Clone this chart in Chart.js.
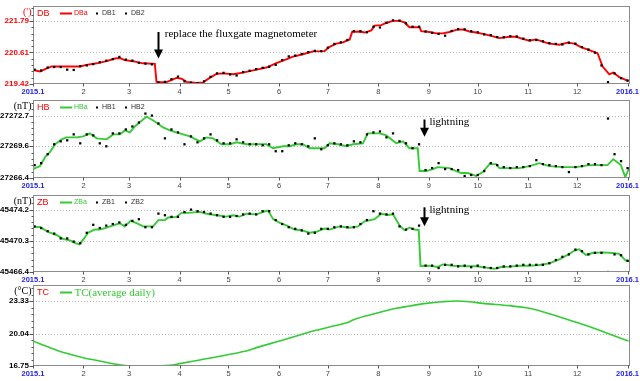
<!DOCTYPE html>
<html><head><meta charset="utf-8">
<script src="https://cdn.jsdelivr.net/npm/chart.js@4/dist/chart.umd.min.js"></script>
<style>
html,body{margin:0;padding:0;background:#fff;width:640px;height:381px;overflow:hidden;position:relative}
canvas{position:absolute;left:0}
</style></head><body>
<canvas id="c0"></canvas><canvas id="c1"></canvas><canvas id="c2"></canvas><canvas id="c3"></canvas>
<script>
// ---------- data ----------
const monthTickDays = [0,31,59,90,120,151,181,212,243,273,304,334,365];
const monthLabels = ['2015.1','2','3','4','5','6','7','8','9','10','11','12','2016.1'];

const DB_ticks = [219.42,220.61,221.79];
const DB_tickLabels = ['219.42','220.61','221.79'];
const HB_ticks = [27266.4,27269.6,27272.7];
const HB_tickLabels = ['27266.4','27269.6','27272.7'];
const ZB_ticks = [45466.4,45470.3,45474.2];
const ZB_tickLabels = ['45466.4','45470.3','45474.2'];
const TC_ticks = [16.75,20.04,23.33];
const TC_tickLabels = ['16.75','20.04','23.33'];

const DBa_days = [0,4.3,7.4,11.5,15.3,20.7,28.8,32.9,39.1,45.2,50.3,53.3,56.4,61.3,67.4,74.8,75.8,77.9,82,88.1,91.2,94.2,100.4,104.4,108.5,112.6,116.7,122.8,128.9,137.2,143.3,149.4,155.5,159.6,165.7,171.9,179,182.1,186.2,190.2,194.4,196,200.5,203.6,207.7,209.7,213.8,216.9,220.9,225,228.1,231.1,237.3,238.3,243.4,247.5,251.6,255.7,259.8,263.8,267.9,272,276.1,280.2,286.3,292.5,296.6,300.6,304.7,308.8,312.9,317,323.1,328.2,332.3,336.4,341.5,346.6,349.7,353.8,356.2,359.9,365.6];
const DBa_vals = [219.95,219.89,219.98,220.08,220.08,220.08,220.08,220.14,220.20,220.28,220.38,220.40,220.32,220.28,220.20,220.18,219.50,219.49,219.49,219.65,219.62,219.50,219.46,219.48,219.65,219.80,219.82,219.79,219.85,219.96,220.04,220.21,220.35,220.45,220.54,220.65,220.66,220.82,220.94,220.99,221.10,221.39,221.40,221.36,221.44,221.62,221.64,221.72,221.80,221.80,221.74,221.56,221.56,221.41,221.38,221.33,221.33,221.38,221.46,221.48,221.40,221.36,221.31,221.25,221.15,221.20,221.20,221.12,221.05,221.10,221.02,220.94,220.90,220.98,220.94,220.81,220.70,220.58,220.08,219.78,219.85,219.68,219.53];

const HBa_days = [0,4.3,7.4,10.4,13.5,17.6,20.6,26.8,30.8,34.9,39.1,45.2,49.2,53.3,56.4,59.5,62.5,69.7,74.8,79.9,84,90.1,96.3,102.4,106.5,110.6,115.7,120.8,124.9,131,143.3,147.3,153.5,157.6,161.7,165.7,169.8,175,179,182,187.2,192.3,196.4,202.5,205.6,212.8,216.9,223,227.1,231.1,236.2,237.3,241.4,245.5,248.5,255.7,259.8,262.8,266.9,272,276.1,280.2,284.3,286.3,292.5,298.6,304.7,310.9,317,325.2,333.4,341.5,352.7,356.2,360.9,363.6,366];
const HBa_vals = [27267.3,27267.6,27268.5,27269.0,27269.8,27270.3,27270.5,27270.5,27270.6,27270.9,27270.4,27270.3,27270.8,27270.8,27271.2,27271.0,27271.6,27272.6,27272.1,27271.5,27271.2,27270.9,27270.6,27270.1,27270.5,27270.4,27269.8,27269.8,27270.0,27269.8,27269.8,27269.4,27269.6,27269.6,27269.8,27269.8,27269.4,27269.4,27269.4,27269.9,27269.8,27269.6,27269.8,27269.9,27270.9,27270.9,27270.7,27269.9,27270.1,27269.4,27269.4,27267.1,27267.1,27267.3,27267.5,27267.4,27267.1,27266.9,27266.9,27266.6,27267.0,27267.8,27267.8,27267.4,27267.4,27267.4,27267.6,27267.9,27267.6,27267.5,27267.5,27267.7,27267.7,27268.3,27267.7,27266.5,27267.4];

const ZBa_days = [0,4.3,7.4,10.4,14.5,18.6,22.7,25.7,28.4,30.8,33.8,37.9,41,45.2,49.2,53.3,56.4,59.9,63.6,67.6,73.8,76.9,81,83,88.1,91.2,95.3,102.4,106.5,112.6,118.8,122.8,126.9,131,137.2,141.3,144.3,147.4,151.5,155.5,160.6,164.7,169.8,173.9,179,182,188.2,194.4,199.5,203.6,209.7,213.8,217.9,221,225,228.1,231.1,234.2,236.8,237.9,243.4,248.5,251.6,257.7,265.9,272,278.1,283.3,287.4,292.5,298.6,304.7,310.9,317,323.1,328.2,332.3,335.3,339.4,343.5,349.7,355.8,359.9,363.6,366];
const ZBa_vals = [45472.02,45472.02,45471.63,45471.31,45471.03,45470.52,45470.36,45470.04,45469.85,45470.44,45471.31,45471.71,45471.71,45471.94,45472.22,45472.50,45472.10,45472.81,45472.50,45472.10,45472.10,45472.89,45472.89,45473.21,45473.29,45473.80,45473.80,45473.92,45473.69,45473.49,45473.33,45473.49,45473.33,45473.69,45473.61,45473.92,45474.08,45473.01,45472.54,45472.22,45471.71,45471.63,45471.31,45471.43,45471.83,45471.71,45472.10,45471.94,45472.10,45472.74,45473.01,45473.69,45473.53,45473.61,45472.22,45471.63,45471.94,45471.71,45471.63,45467.15,45467.19,45467.03,45467.35,45467.19,45467.11,45467.11,45466.95,45466.80,45467.03,45467.07,45467.19,45467.19,45467.27,45467.47,45467.98,45468.54,45469.05,45469.25,45468.54,45468.78,45468.86,45468.78,45468.66,45467.87,45467.75];

const TC_days = [0,10.4,20.6,30.8,41,51.1,58.3,71.5,83.8,90,102.4,118.8,133,137.2,151.5,163.8,169.8,176,182,194.4,196.4,210.7,223,231.1,241.4,251.6,259.8,268,276.1,292.5,304.7,312.9,321.1,333.4,343.5,353.8,365.6];
const TC_vals = [19.28,18.61,18.03,17.59,17.26,16.92,16.78,16.75,16.82,16.99,17.36,17.86,18.37,18.61,19.28,19.89,20.2,20.45,20.7,21.24,21.41,22.08,22.59,22.82,23.09,23.26,23.33,23.26,23.09,22.86,22.59,22.25,21.84,21.17,20.63,19.99,19.28];

const dotDays1 = [1,9,17,25,33,41,49,57,65,73,81,89,97,105,113,121,129,137,145,153,161,169,177,185,193,201,209,217,225,233,241,249,257,265,273,281,289,297,305,313,321,329,337,345,353,361];
const dotDays2 = [5,13,21,29,37,45,53,61,69,77,85,93,101,109,117,125,133,141,149,157,165,173,181,189,197,205,213,221,229,237,245,253,261,269,277,285,293,301,309,317,325,333,341,349,357,365];

const DB1 = [219.96,220.04,220.06,219.95,220.12,220.24,220.36,220.34,220.22,220.16,219.50,219.70,219.47,219.52,219.82,219.78,219.87,219.98,220.07,220.32,220.49,220.62,220.66,220.93,221.08,221.41,221.58,221.73,221.81,221.58,221.40,221.31,221.42,221.48,221.37,221.26,221.18,221.21,221.07,221.03,220.93,220.98,220.81,220.60,219.49,219.64];
const DB2 = [219.93,220.06,219.96,220.09,220.17,220.30,220.44,220.30,220.19,219.48,219.60,219.52,219.45,219.69,219.84,219.74,219.92,220.03,220.14,220.46,220.55,220.67,220.79,220.99,221.41,221.37,221.55,221.82,221.71,221.58,221.35,221.24,221.49,221.41,221.29,221.19,221.22,221.13,221.08,220.96,220.91,220.94,220.72,220.12,219.82,219.55];
const HB1 = [27267.7,27268.8,27270.1,27270.8,27270.8,27269.9,27270.9,27271.3,27272.0,27272.7,27270.4,27271.0,27270.6,27270.4,27270.2,27269.9,27270.0,27269.8,27269.8,27269.1,27269.9,27269.6,27269.3,27269.9,27269.7,27270.0,27271.0,27270.5,27270.1,27269.4,27267.2,27267.9,27267.3,27266.6,27266.7,27267.9,27267.5,27267.5,27267.6,27267.8,27267.6,27267.0,27267.6,27267.8,27272.4,27268.1];
const HB2 = [27267.9,27269.8,27270.2,27269.9,27270.7,27269.6,27270.9,27271.6,27272.9,27271.9,27271.3,27269.8,27270.0,27270.8,27269.9,27270.3,27269.8,27269.7,27269.1,27269.7,27269.8,27270.4,27269.7,27269.8,27270.1,27270.8,27271.1,27270.9,27269.9,27269.8,27267.4,27267.3,27267.2,27266.7,27267.1,27267.7,27267.4,27267.5,27268.2,27267.7,27267.5,27267.5,27267.8,27267.7,27268.8,27267.4];
const ZB1 = [45472.1,45471.5,45470.6,45470.2,45471.3,45471.9,45472.4,45472.3,45473.0,45472.0,45473.5,45473.3,45474.2,45473.9,45473.5,45473.3,45473.6,45473.6,45474.0,45472.4,45471.8,45471.2,45471.8,45472.0,45472.0,45472.4,45474.0,45473.6,45472.1,45471.8,45467.2,45466.9,45467.3,45467.2,45467.2,45466.9,45467.1,45467.2,45467.3,45467.3,45467.9,45468.6,45469.0,45468.8,45466.4,45468.5];
const ZB2 = [45471.9,45471.2,45470.6,45470.0,45472.3,45472.2,45472.6,45472.8,45472.0,45473.7,45473.3,45473.9,45474.0,45473.7,45473.3,45473.4,45473.7,45474.0,45472.9,45472.0,45471.6,45471.3,45471.8,45472.1,45472.0,45472.9,45473.7,45473.7,45471.7,45472.2,45467.2,45467.3,45467.1,45467.0,45467.0,45466.9,45467.1,45467.3,45467.3,45467.5,45468.3,45469.2,45468.6,45468.8,45468.6,45467.8];

// ---------- layout / style ----------
const SANS = '"Liberation Sans", Arial, sans-serif';
const SERIF = '"Liberation Serif", "Times New Roman", serif';
const RED = '#ff0000', GREEN = '#33cc33';

const panels = [
  {name:'DB', unit:"(')", unitColor:RED, tickColor:RED, top:2, plotH:82, min:219.42, max:222.36,
   ticks:DB_ticks, tickLabels:DB_tickLabels, lineName:'DBa', lineColor:RED, lineDays:DBa_days, lineVals:DBa_vals,
   d1:DB1, d2:DB2, d1Name:'DB1', d2Name:'DB2'},
  {name:'HB', unit:'(nT)', unitColor:'#000', tickColor:'#000', top:96, plotH:82, min:27266.4, max:27274.27,
   ticks:HB_ticks, tickLabels:HB_tickLabels, lineName:'HBa', lineColor:GREEN, lineDays:HBa_days, lineVals:HBa_vals,
   d1:HB1, d2:HB2, d1Name:'HB1', d2Name:'HB2'},
  {name:'ZB', unit:'(nT)', unitColor:'#000', tickColor:'#000', top:191, plotH:81, min:45466.4, max:45476.03,
   ticks:ZB_ticks, tickLabels:ZB_tickLabels, lineName:'ZBa', lineColor:GREEN, lineDays:ZBa_days, lineVals:ZBa_vals,
   d1:ZB1, d2:ZB2, d1Name:'ZB1', d2Name:'ZB2'},
  {name:'TC', unit:'(°C)', unitColor:'#000', tickColor:'#000', top:285, plotH:81, min:16.75, max:24.95,
   ticks:TC_ticks, tickLabels:TC_tickLabels, lineName:'TC(average daily)', lineColor:GREEN, lineDays:TC_days, lineVals:TC_vals,
   serifLegend:true, smooth:true}
];

const notes = [
  {panel:0, text:'replace the fluxgate magnetometer', arrowDay:76.8, arrowFrom:221.38, arrowTo:220.38, textDay:80.9, textVal:221.30},
  {panel:1, text:'lightning', arrowDay:239.9, arrowFrom:27272.3, arrowTo:27270.56, textDay:243.4, textVal:27272.0},
  {panel:2, text:'lightning', arrowDay:239.9, arrowFrom:45474.49, arrowTo:45472.11, textDay:243.4, textVal:45474.1}
];

const panelById = {};

const deco = {
  id:'deco',
  beforeDatasetsDraw(chart){
    const p = panelById[chart.canvas.id]; if(!p) return;
    const {ctx, chartArea:a} = chart; const ys = chart.scales.y;
    ctx.save(); ctx.strokeStyle='#b8b8b8'; ctx.lineWidth=1; ctx.setLineDash([1,2]);
    p.ticks.forEach((v,i)=>{ if(i===0) return;
      const py = Math.round(ys.getPixelForValue(v))+0.5;
      ctx.beginPath(); ctx.moveTo(a.left,py); ctx.lineTo(a.right,py); ctx.stroke(); });
    ctx.restore();
  },
  afterDraw(chart){
    const p = panelById[chart.canvas.id]; if(!p) return;
    const {ctx, chartArea:a} = chart; const ys = chart.scales.y, xs = chart.scales.x;
    const L = Math.round(a.left)+0.5, R = Math.round(a.right)-0.5, T = Math.round(a.top)+0.5, B = Math.round(a.bottom)-0.5;
    ctx.save();
    ctx.strokeStyle='#8c8c8c'; ctx.lineWidth=1; ctx.setLineDash([]);
    ctx.strokeRect(L, T, R-L, B-T);
    ctx.strokeStyle='#555';
    const px = p.ticks.map(v=>ys.getPixelForValue(v));
    const seg = (py,len)=>{ const yy=Math.round(py)+0.5; ctx.beginPath(); ctx.moveTo(L-len,yy); ctx.lineTo(L,yy); ctx.stroke(); };
    px.forEach(py=>seg(py,4));
    for(let i=0;i<px.length-1;i++){ const st=(px[i+1]-px[i])/5; for(let k=1;k<5;k++) seg(px[i]+st*k,2); }
    const st=(px[1]-px[0])/5; let yy=px[px.length-1]+st;
    while(yy>a.top+1){ seg(yy,2); yy+=st; }
    monthTickDays.forEach(d=>{ const xx=Math.round(xs.getPixelForValue(d))+0.5; ctx.beginPath(); ctx.moveTo(xx,B); ctx.lineTo(xx,B+3); ctx.stroke(); });
    ctx.textBaseline='middle'; ctx.textAlign='right';
    ctx.font='10px '+SERIF; ctx.fillStyle=p.unitColor; ctx.fillText(p.unit, 31.5, a.top+6.5);
    const ly = a.top+7.5;
    ctx.textAlign='left';
    ctx.font='9px '+SANS; ctx.fillStyle=RED; ctx.fillText(p.name, 37, ly);
    ctx.strokeStyle=p.lineColor; ctx.lineWidth=2; ctx.beginPath(); ctx.moveTo(60,ly); ctx.lineTo(72,ly); ctx.stroke();
    ctx.fillStyle=p.lineColor;
    if(p.serifLegend){ ctx.font='11px '+SERIF; ctx.fillText(p.lineName, 74.5, ly+0.5); }
    else { ctx.font='7px '+SANS; ctx.fillText(p.lineName, 74, ly); }
    if(p.d1){
      ctx.fillStyle='#000'; ctx.fillRect(96, ly-1, 2, 2); ctx.fillRect(125, ly-1, 2, 2);
      ctx.fillStyle='#333'; ctx.font='7px '+SANS; ctx.fillText(p.d1Name, 102, ly); ctx.fillText(p.d2Name, 131, ly);
    }
    notes.filter(n=>panels[n.panel]===p).forEach(n=>{
      const ax = Math.round(xs.getPixelForValue(n.arrowDay))+0.5;
      const y0 = ys.getPixelForValue(n.arrowFrom), y1 = ys.getPixelForValue(n.arrowTo);
      ctx.strokeStyle='#000'; ctx.fillStyle='#000'; ctx.lineWidth=2;
      ctx.beginPath(); ctx.moveTo(ax,y0); ctx.lineTo(ax,y1-8); ctx.stroke();
      ctx.beginPath(); ctx.moveTo(ax-4.5,y1-9); ctx.lineTo(ax+4.5,y1-9); ctx.lineTo(ax,y1); ctx.closePath(); ctx.fill();
      ctx.font='11px '+SERIF; ctx.textAlign='left'; ctx.textBaseline='middle';
      ctx.fillText(n.text, xs.getPixelForValue(n.textDay), ys.getPixelForValue(n.textVal));
    });
    ctx.restore();
  }
};

panels.forEach((p,idx)=>{
  const cv = document.getElementById('c'+idx);
  panelById[cv.id] = p;
  cv.width = 640; cv.height = p.plotH + 13;
  cv.style.top = p.top+'px';
  const datasets = [];
  if(p.d1){
    datasets.push({data: dotDays1.map((d,i)=>({x:d,y:p.d1[i]})), showLine:false, pointStyle:'rect', pointRadius:1.6, pointBorderWidth:0, pointBackgroundColor:'#000', order:0});
    datasets.push({data: dotDays2.map((d,i)=>({x:d,y:p.d2[i]})), showLine:false, pointStyle:'rect', pointRadius:1.6, pointBorderWidth:0, pointBackgroundColor:'#000', order:0});
  }
  datasets.push({data: p.lineDays.map((d,i)=>({x:d,y:p.lineVals[i]})), borderColor:p.lineColor, borderWidth:p.smooth?1.6:1.9, pointRadius:0, tension:0,
    cubicInterpolationMode: p.smooth ? 'monotone' : 'default', order:1});
  new Chart(cv, {
    type:'line',
    data:{datasets},
    options:{
      responsive:false, animation:false, events:[],
      layout:{padding:{left:0,right:10,top:0,bottom:0}},
      plugins:{legend:{display:false}, tooltip:{enabled:false}},
      scales:{
        x:{type:'linear', min:0, max:366.5,
          grid:{display:false, drawTicks:false}, border:{display:false},
          afterBuildTicks:s=>{ s.ticks = monthTickDays.map(v=>({value:v})); },
          afterFit:s=>{ s.height=13; s.paddingLeft=0; s.paddingRight=0; },
          ticks:{autoSkip:false, maxRotation:0, minRotation:0, padding:3,
            callback:(v,i)=>monthLabels[i],
            color:c=>(c.index===0||c.index===monthLabels.length-1)?'#2222ee':'#444',
            font:c=>(c.index===0||c.index===monthLabels.length-1)?{family:SANS,size:7.5,weight:'bold'}:{family:SANS,size:7.5}}
        },
        y:{min:p.min, max:p.max,
          grid:{display:false, drawTicks:false}, border:{display:false},
          afterBuildTicks:s=>{ s.ticks = p.ticks.map(v=>({value:v})); },
          afterFit:s=>{ s.width=33; s.paddingTop=0; s.paddingBottom=0; },
          ticks:{autoSkip:false, padding:4, callback:(v,i)=>p.tickLabels[i], color:p.tickColor,
            font:{family:SANS,size:8,weight:'bold'}}
        }
      }
    },
    plugins:[deco]
  });
});
</script>
</body></html>
